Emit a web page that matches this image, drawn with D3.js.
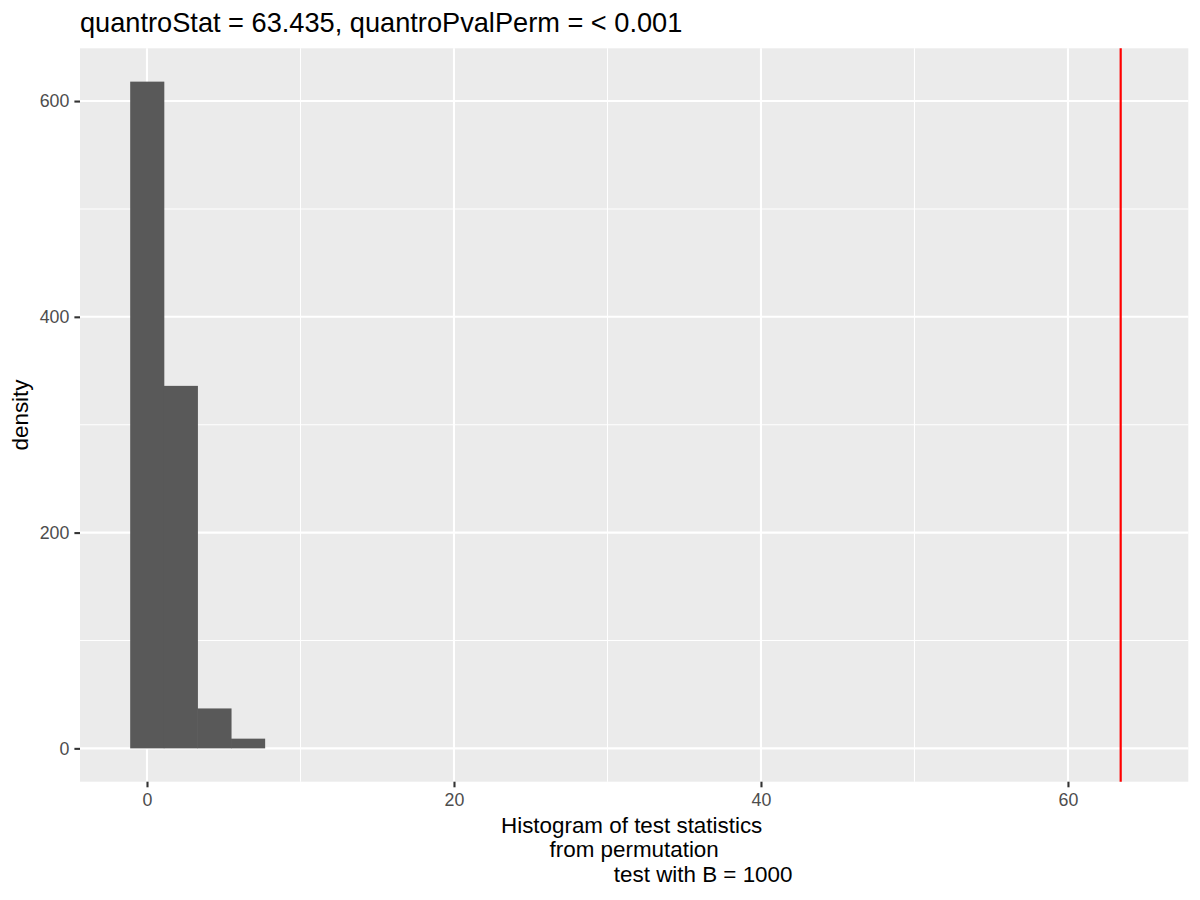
<!DOCTYPE html>
<html>
<head>
<meta charset="utf-8">
<script src="https://cdn.jsdelivr.net/npm/d3@7"></script>
<style>
  body { margin: 0; background: white; }
  svg { font-family: "Liberation Sans", Arial, sans-serif; }
</style>
</head>
<body>
<main></main>
<script>
// histogram bins
let binStart = [-1.095, 1.095, 3.285, 5.475]
let binEnd = [1.095, 3.285, 5.475, 7.665]
let binValue = [618, 336, 37, 9]
let observedStat = 63.435
let xTicks = [0, 20, 40, 60]
let xMinor = [-10, 10, 30, 50, 70]
let yTicks = [0, 200, 400, 600]
let yMinor = [100, 300, 500]
let titleText = "quantroStat = 63.435, quantroPvalPerm = < 0.001"
let xLabelLines = ["Histogram of test statistics", "from permutation", "test with B = 1000"]

let width = 1200, height = 900
let panel = {left: 80, right: 1188.3, top: 48.3, bottom: 781.7}

let svg = d3.select('main')
    .append('svg')
    .attr('width', width)
    .attr('height', height)

let x = d3.scaleLinear().domain([-4.365, 67.84]).range([panel.left, panel.right])
let y = d3.scaleLinear().domain([-30.9, 648.9]).range([panel.bottom, panel.top])

//panel background
svg.append('rect')
    .attr('x', panel.left)
    .attr('y', panel.top)
    .attr('width', panel.right - panel.left)
    .attr('height', panel.bottom - panel.top)
    .style('fill', '#EBEBEB')

//grid lines
let clipX = xMinor.filter(d => x(d) > panel.left && x(d) < panel.right)
svg.selectAll('.xminor').data(clipX).enter().append('line')
    .attr('x1', d => x(d)).attr('x2', d => x(d))
    .attr('y1', panel.top).attr('y2', panel.bottom)
    .style('stroke', 'white').style('stroke-width', 1.05)
svg.selectAll('.yminor').data(yMinor).enter().append('line')
    .attr('y1', d => y(d)).attr('y2', d => y(d))
    .attr('x1', panel.left).attr('x2', panel.right)
    .style('stroke', 'white').style('stroke-width', 1.05)
svg.selectAll('.xmajor').data(xTicks).enter().append('line')
    .attr('x1', d => x(d)).attr('x2', d => x(d))
    .attr('y1', panel.top).attr('y2', panel.bottom)
    .style('stroke', 'white').style('stroke-width', 2.1)
svg.selectAll('.ymajor').data(yTicks).enter().append('line')
    .attr('y1', d => y(d)).attr('y2', d => y(d))
    .attr('x1', panel.left).attr('x2', panel.right)
    .style('stroke', 'white').style('stroke-width', 2.1)

//bars
svg.selectAll('.bar').data(binValue).enter().append('rect')
    .attr('x', (d, i) => x(binStart[i]))
    .attr('width', (d, i) => x(binEnd[i]) - x(binStart[i]) + 0.5)
    .attr('y', d => y(d))
    .attr('height', d => y(0) - y(d))
    .style('fill', '#595959')

//observed statistic
svg.append('line')
    .attr('x1', x(observedStat)).attr('x2', x(observedStat))
    .attr('y1', panel.top).attr('y2', panel.bottom)
    .style('stroke', '#FF0000')
    .style('stroke-width', 2.2)

//axes
let xAxis = svg.append('g')
    .attr('transform', `translate(0,${panel.bottom})`)
    .call(d3.axisBottom(x).tickValues(xTicks).tickSize(5.6).tickPadding(5.6))
let yAxis = svg.append('g')
    .attr('transform', `translate(${panel.left},0)`)
    .call(d3.axisLeft(y).tickValues(yTicks).tickSize(5.6).tickPadding(5))
for (let ax of [xAxis, yAxis]) {
  ax.select('.domain').remove()
  ax.selectAll('.tick line').style('stroke', '#333333').style('stroke-width', 2.1)
  ax.selectAll('.tick text')
      .style('fill', '#4D4D4D')
      .style('font-size', '17.8px')
      .style('font-family', '"Liberation Sans", Arial, sans-serif')
}

//title
svg.append('text')
    .attr('x', panel.left)
    .attr('y', 31.5)
    .style('font-size', '27.2px')
    .style('fill', 'black')
    .text(titleText)

//y axis title
svg.append('text')
    .attr('transform', `translate(28,${(panel.top + panel.bottom) / 2}) rotate(-90)`)
    .attr('text-anchor', 'middle')
    .style('font-size', '22.4px')
    .text('density')

//x axis title, three lines
let xMid = (panel.left + panel.right) / 2
let lineShift = [-2.5, 0, 69]
svg.selectAll('.xlab').data(xLabelLines).enter().append('text')
    .attr('x', (d, i) => xMid + lineShift[i])
    .attr('y', (d, i) => 832.7 + i * 24.6)
    .attr('text-anchor', 'middle')
    .style('font-size', '22.4px')
    .text(d => d)
</script>
</body>
</html>
